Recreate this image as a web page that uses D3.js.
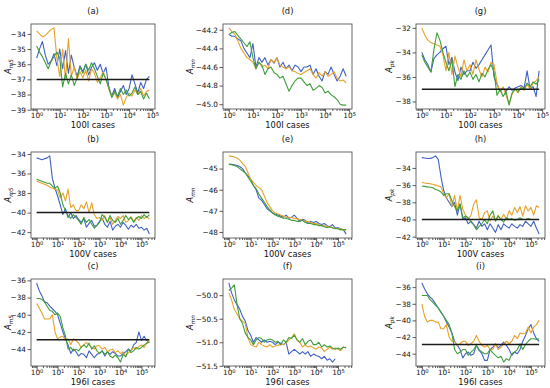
<!DOCTYPE html>
<html>
<head>
<meta charset="utf-8">
<script src="https://cdn.jsdelivr.net/npm/d3@7"></script>
<style>
  body { margin: 0; background: #fff; }
  text { font-family: "DejaVu Sans", sans-serif; }
</style>
</head>
<body>
<svg class="chart"></svg>
<script>
// number of cases (x)
var casesI = [1, 1.33, 1.78, 2.37, 3.16, 4.22, 5.62, 7.5,
  10, 13.3, 17.8, 23.7, 31.6, 42.2, 56.2, 75,
  100, 133, 178, 237, 316, 422, 562, 750,
  1000, 1330, 1780, 2370, 3160, 4220, 5620, 7500,
  10000, 13300, 17800, 23700, 31600, 42200, 56200, 75000];
var casesV = [1, 1.33, 1.78, 2.37, 3.16, 4.22, 5.62, 7.5,
  10, 13.3, 17.8, 23.7, 31.6, 42.2, 56.2, 75,
  100, 133, 178, 237, 316, 422, 562, 750,
  1000, 1330, 1780, 2370, 3160, 4220, 5620, 7500,
  10000, 13300, 17800, 23700, 31600, 42200, 56200, 75000,
  100000, 133000, 178000, 237000];
var cases196I = casesV;

// (a) A_m5, 100I
var a_blue = [-35.6, -35.0, -34.5, -35.4, -36.0, -35.8, -35.3, -36.1,
  -35.0, -36.3, -35.1, -36.6, -35.4, -36.2, -36.8, -36.1,
  -36.5, -36.0, -36.7, -36.2, -35.9, -36.4, -36.0, -36.6,
  -36.2, -37.5, -38.1, -37.6, -38.2, -37.8, -37.4, -38.0,
  -37.6, -36.7, -37.3, -37.9, -37.2, -37.6, -37.0, -36.8];
var a_orange = [-33.8, -34.0, -34.2, -34.1, -33.9, -33.7, -33.6, -35.6,
  -36.8, -35.0, -37.0, -34.3, -36.8, -36.2, -37.0, -36.5,
  -36.9, -36.4, -37.1, -36.3, -36.6, -37.2, -36.9, -36.5,
  -37.0, -37.6, -38.1, -37.9, -38.3, -38.0, -38.7, -38.2,
  -37.9, -38.1, -37.7, -38.0, -37.6, -38.1, -37.8, -37.7];
var a_green = [-34.8, -35.2, -35.5, -35.9, -36.3, -35.8, -35.5, -35.2,
  -35.6, -37.5, -36.6, -37.3, -36.7, -37.4, -36.9, -36.2,
  -36.6, -36.0, -36.4, -35.9, -36.3, -36.8, -37.3, -36.6,
  -37.0, -37.6, -38.2, -37.8, -38.1, -37.6, -38.0, -37.7,
  -38.1, -37.9, -37.5, -38.0, -37.8, -38.3, -37.9, -38.3];

// (d) A_mn, 100I
var d_blue = [-44.25, -44.27, -44.27, -44.3, -44.32, -44.4, -44.45, -44.5,
  -44.35, -44.6, -44.5, -44.55, -44.5, -44.58, -44.52, -44.56,
  -44.5, -44.6, -44.55, -44.62, -44.58, -44.64, -44.58, -44.6,
  -44.65, -44.6, -44.6, -44.58, -44.68, -44.62, -44.7, -44.75,
  -44.65, -44.68, -44.6, -44.68, -44.75, -44.7, -44.62, -44.7];
var d_orange = [-44.18, -44.22, -44.25, -44.32, -44.4, -44.45, -44.5, -44.52,
  -44.55, -44.62, -44.55, -44.6, -44.58, -44.62, -44.52, -44.55,
  -44.5, -44.58, -44.6, -44.62, -44.6, -44.64, -44.65, -44.67,
  -44.68, -44.66, -44.64, -44.62, -44.68, -44.72, -44.66, -44.7,
  -44.65, -44.7, -44.68, -44.65, -44.72, -44.75, -44.74, -44.77];
var d_green = [-44.25, -44.23, -44.22, -44.26, -44.3, -44.34, -44.38, -44.33,
  -44.5, -44.62, -44.55, -44.58, -44.68, -44.62, -44.6, -44.66,
  -44.68, -44.72, -44.7, -44.78, -44.86, -44.8, -44.75, -44.72,
  -44.72, -44.76, -44.8, -44.78, -44.85, -44.83, -44.8, -44.82,
  -44.88, -44.86, -44.9, -44.92, -44.95, -45.0, -45.01, -45.01];

// (g) A_pk, 100I
var g_blue = [-34.0, -34.6, -35.0, -35.6, -34.5, -34.2, -34.0, -33.7,
  -33.5, -35.0, -34.4, -35.6, -36.3, -35.2, -35.8, -35.5,
  -35.5, -34.8, -35.3, -35.0, -34.6, -34.2, -33.8, -33.4,
  -36.0, -36.6, -37.2, -36.9, -37.2, -36.8, -37.1, -36.9,
  -36.8, -36.7, -36.9, -35.5, -37.0, -36.8, -37.6, -35.5];
var g_orange = [-32.0, -32.6, -33.0, -33.2, -33.3, -33.4, -33.5, -34.2,
  -35.5, -34.0, -35.8, -34.3, -35.2, -36.0, -34.6, -35.5,
  -35.0, -35.8, -34.6, -35.4, -36.0, -35.2, -35.6, -34.8,
  -35.0, -36.5, -37.2, -36.8, -37.5, -38.2, -37.4, -37.0,
  -37.3, -36.8, -37.1, -36.6, -37.0, -36.5, -36.3, -36.0];
var g_green = [-34.2, -34.8, -35.2, -35.6, -33.8, -32.4, -33.0, -34.0,
  -34.8, -35.5, -34.6, -36.8, -35.8, -36.2, -35.5, -36.0,
  -35.6, -36.2, -35.8, -36.4, -35.7, -36.0, -35.4, -35.0,
  -35.6, -37.5, -37.0, -37.6, -37.2, -38.3, -37.3, -37.0,
  -37.2, -36.9, -37.0, -36.5, -36.8, -36.4, -36.6, -36.2];

// (b) A_m5, 100V
var b_blue = [-34.4, -34.5, -34.6, -34.5, -34.4, -34.2, -36.5, -37.5,
  -38.3, -39.2, -40.2, -39.6, -40.5, -40.0, -40.6, -40.3,
  -40.7, -41.0, -40.6, -41.5, -41.1, -40.8, -41.4, -41.3,
  -40.9, -40.6, -41.2, -41.5, -40.9, -41.8, -41.4, -41.2,
  -41.5, -41.0, -41.3, -41.7, -41.3, -41.5, -41.2, -41.6,
  -41.5, -41.8, -41.6, -42.2];
var b_orange = [-36.8, -36.9, -37.0, -37.1, -37.2, -37.4, -37.5, -37.6,
  -37.7, -38.5, -38.0, -38.8, -37.6, -39.5, -39.2, -39.8,
  -39.8, -39.2, -39.6, -38.9, -40.0, -39.0, -40.2, -40.6,
  -40.5, -40.8, -40.3, -41.0, -40.5, -41.2, -40.8, -40.4,
  -40.6, -40.3, -41.0, -40.8, -40.4, -40.9, -40.5, -40.8,
  -40.3, -40.6, -40.4, -40.7];
var b_green = [-36.6, -36.7, -36.8, -36.9, -37.0, -37.0, -37.3, -37.5,
  -37.3, -38.0, -39.2, -39.8, -40.3, -40.6, -40.2, -40.5,
  -40.8, -41.2, -40.5, -41.0, -40.7, -41.2, -41.6, -41.3,
  -41.0, -40.2, -40.5, -41.0, -40.3, -40.8, -41.0, -40.6,
  -41.2, -40.8, -40.3, -40.7, -40.5, -41.0, -40.6, -40.4,
  -40.6, -40.2, -40.5, -40.2];

// (e) A_mn, 100V
var e_blue = [-44.8, -44.8, -44.82, -44.85, -44.9, -45.0, -45.2, -45.35,
  -45.5, -45.8, -46.0, -46.4, -46.5, -46.7, -46.9, -47.0,
  -47.1, -47.15, -47.2, -47.25, -47.3, -47.2, -47.35, -47.3,
  -47.2, -47.35, -47.5, -47.4, -47.45, -47.6, -47.5, -47.55,
  -47.5, -47.6, -47.65, -47.6, -47.7, -47.75, -47.65, -47.8,
  -47.8, -47.85, -47.9, -48.1];
var e_orange = [-44.4, -44.42, -44.45, -44.5, -44.6, -44.75, -44.9, -45.2,
  -45.5, -45.65, -45.8, -45.9, -46.0, -46.3, -46.6, -46.8,
  -47.0, -47.1, -47.15, -47.2, -47.25, -47.3, -47.3, -47.32,
  -47.35, -47.38, -47.4, -47.45, -47.5, -47.5, -47.55, -47.6,
  -47.6, -47.65, -47.7, -47.7, -47.75, -47.75, -47.8, -47.82,
  -47.85, -47.85, -47.9, -47.9];
var e_green = [-44.8, -44.82, -44.85, -44.9, -45.0, -45.1, -45.2, -45.4,
  -45.6, -45.8, -45.95, -46.2, -46.4, -46.6, -46.8, -46.95,
  -47.1, -47.2, -47.25, -47.3, -47.35, -47.35, -47.4, -47.45,
  -47.45, -47.5, -47.5, -47.45, -47.55, -47.6, -47.6, -47.65,
  -47.65, -47.7, -47.7, -47.75, -47.8, -47.75, -47.8, -47.85,
  -47.85, -47.9, -47.88, -47.9];

// (h) A_pk, 100V
var h_blue = [-32.8, -32.85, -32.9, -32.9, -32.8, -32.6, -33.0, -35.0,
  -36.6, -37.5, -38.0, -38.5, -38.0, -39.5, -38.2, -40.0,
  -39.8, -40.5, -40.2, -40.6, -41.0, -40.2, -40.8, -40.5,
  -41.2, -40.5, -41.0, -41.5, -40.6, -41.2, -40.5, -40.8,
  -41.0, -40.5, -40.8, -41.0, -40.6, -40.8, -40.2, -40.5,
  -40.8, -40.2, -41.0, -41.7];
var h_orange = [-35.7, -35.75, -35.8, -35.85, -35.9, -36.0, -36.1, -36.2,
  -37.0, -37.5, -37.0, -38.5, -37.2, -39.0, -37.2, -38.8,
  -39.5, -40.0, -39.5, -38.2, -37.7, -39.8, -40.0, -39.2,
  -39.0, -40.2, -39.6, -40.1, -39.5, -40.0, -39.4, -40.0,
  -39.0, -39.5, -38.6, -39.2, -38.5, -39.6, -38.4, -39.0,
  -38.6, -39.5, -38.4, -38.6];
var h_green = [-36.1, -36.15, -36.2, -36.25, -36.3, -36.5, -36.6, -36.8,
  -37.2, -37.0, -37.0, -37.8, -38.5, -39.0, -38.2, -39.8,
  -39.6, -39.8, -40.3, -40.6, -41.2, -40.8, -40.5, -40.0,
  -40.5, -39.5, -39.0, -40.2, -39.6, -40.0, -40.3, -39.8,
  -40.0, -39.9, -40.1, -40.0, -39.8, -40.0, -40.0, -39.9,
  -40.0, -40.0, -40.0, -40.0];

// (c) A_m5, 196I
var c_blue = [-36.3, -37.2, -37.8, -38.5, -38.6, -39.0, -39.3, -39.6,
  -40.0, -41.0, -42.0, -42.8, -43.5, -44.5, -44.0, -44.3,
  -44.8, -44.5, -44.6, -45.0, -44.2, -44.6, -45.0, -44.6,
  -44.5, -44.2, -44.8, -44.3, -44.6, -44.3, -44.5, -44.8,
  -44.8, -44.5, -44.3, -44.0, -44.2, -43.5, -43.2, -42.0,
  -43.0, -42.5, -43.0, -43.2];
var c_orange = [-38.7, -39.2, -39.8, -40.5, -40.5, -40.5, -40.0, -42.0,
  -42.8, -42.6, -42.5, -43.0, -42.8, -43.5, -42.8, -43.0,
  -43.3, -43.8, -43.5, -43.2, -43.5, -43.8, -44.0, -43.6,
  -43.6, -44.0, -43.8, -44.3, -44.1, -44.0, -44.4, -44.2,
  -44.5, -44.3, -44.8, -44.4, -44.2, -43.8, -44.0, -43.7,
  -43.5, -43.8, -43.3, -43.0];
var c_green = [-38.1, -38.1, -38.2, -38.5, -39.0, -39.5, -39.6, -40.0,
  -39.8, -40.2, -41.5, -42.5, -44.0, -43.8, -44.2, -44.0,
  -44.2, -43.8, -43.5, -43.8, -43.3, -44.0, -43.6, -44.2,
  -44.5, -44.2, -44.6, -44.3, -44.8, -45.0, -44.7, -45.0,
  -45.5, -44.6, -44.9, -44.0, -44.4, -44.2, -43.8, -44.0,
  -43.8, -43.5, -43.3, -43.2];

// (f) A_mn, 196I
var f_blue = [-49.74, -49.95, -50.1, -50.2, -50.3, -50.45, -50.55, -50.75,
  -50.85, -51.0, -50.9, -50.95, -51.0, -50.95, -51.0, -50.98,
  -51.0, -51.05, -51.0, -51.02, -51.05, -51.0, -51.25, -51.2,
  -51.15, -51.2, -51.25, -51.2, -51.25, -51.2, -51.3, -51.25,
  -51.28, -51.3, -51.35, -51.3, -51.38, -51.35, -51.42, -51.35];
var f_orange = [-49.95, -50.1, -50.3, -50.4, -50.5, -50.55, -50.6, -50.9,
  -51.05, -51.08, -51.1, -51.0, -51.05, -51.08, -51.1, -51.05,
  -51.1, -51.08, -51.06, -51.05, -51.05, -51.02, -50.95, -50.9,
  -50.82, -50.95, -51.0, -51.1, -51.05, -51.1, -51.08, -51.12,
  -51.15, -51.1, -51.12, -51.2, -51.15, -51.1, -51.15, -51.12,
  -51.15, -51.18, -51.1, -51.12];
var f_green = [-49.9, -49.85, -49.78, -50.2, -50.5, -50.6, -50.8, -50.9,
  -50.95, -51.05, -50.95, -50.9, -50.92, -51.0, -50.95, -50.93,
  -50.95, -51.0, -50.98, -51.05, -50.95, -51.0, -50.9, -50.92,
  -50.85, -50.95, -51.0, -50.92, -51.05, -50.98, -50.95, -51.05,
  -51.05, -51.0, -51.1, -51.05, -51.1, -51.08, -51.12, -51.15,
  -51.12, -51.15, -51.1, -51.12];

// (i) A_pk, 196I
var i_blue = [-35.5, -36.2, -36.8, -37.2, -37.5, -38.0, -38.5, -39.0,
  -39.5, -40.2, -40.8, -41.5, -42.5, -43.0, -43.5, -44.5,
  -44.0, -43.8, -44.2, -44.0, -43.0, -43.6, -44.0, -44.8,
  -44.8, -43.5, -43.2, -42.8, -43.3, -43.0, -42.6, -43.0,
  -43.5, -44.2, -43.8, -44.0, -43.5, -42.5, -41.8, -41.0,
  -40.5, -41.5, -42.2, -42.5];
var i_orange = [-38.0, -39.5, -40.2, -40.0, -40.0, -40.2, -40.2, -41.0,
  -41.0, -40.5, -42.0, -42.5, -42.5, -43.0, -42.8, -42.5,
  -42.5, -43.0, -42.8, -42.5, -41.8, -42.5, -43.0, -43.2,
  -43.0, -43.5, -43.5, -42.8, -43.5, -43.2, -42.8, -42.5,
  -42.8, -42.5, -41.8, -42.2, -41.5, -41.6, -41.5, -40.8,
  -41.5, -40.8, -40.5, -40.0];
var i_green = [-37.0, -37.0, -37.0, -37.5, -37.8, -38.2, -38.5, -39.0,
  -39.5, -40.0, -40.5, -41.5, -43.5, -44.0, -43.8, -43.5,
  -43.5, -44.2, -43.8, -43.5, -43.0, -43.5, -43.8, -44.0,
  -44.0, -43.5, -43.9, -44.2, -44.5, -44.3, -45.0, -44.6,
  -44.8, -44.0, -43.8, -43.5, -42.8, -43.5, -42.9, -42.5,
  -42.2, -42.2, -42.3, -42.2];

// reference (black) levels, panel titles, labels and ticks
var refLevels = [-37, null, -37, -40, null, -40, -42.9, null, -42.9];
var panelTitles = ["(a)", "(d)", "(g)", "(b)", "(e)", "(h)", "(c)", "(f)", "(i)"];
var xLabels = ["100I cases", "100V cases", "196I cases"];
var ySubs = ["m5", "mn", "pk"];
var xTicks = [1, 10, 100, 1000, 10000, 100000];
var yTicks = [
  [-34, -35, -36, -37, -38, -39], [-44.2, -44.4, -44.6, -44.8, -45.0], [-32, -34, -36, -38],
  [-34, -36, -38, -40, -42], [-45, -46, -47, -48], [-34, -36, -38, -40, -42],
  [-36, -38, -40, -42, -44], [-50.0, -50.5, -51.0, -51.5], [-36, -38, -40, -42, -44]
];
var yFormats = [".0f", ".1f", ".0f", ".0f", ".0f", ".0f", ".0f", ".1f", ".0f"];

var panels = [
  {x: casesI, runs: [a_blue, a_orange, a_green]},
  {x: casesI, runs: [d_blue, d_orange, d_green]},
  {x: casesI, runs: [g_blue, g_orange, g_green]},
  {x: casesV, runs: [b_blue, b_orange, b_green]},
  {x: casesV, runs: [e_blue, e_orange, e_green]},
  {x: casesV, runs: [h_blue, h_orange, h_green]},
  {x: cases196I, runs: [c_blue, c_orange, c_green]},
  {x: cases196I, runs: [f_blue, f_orange, f_green]},
  {x: cases196I, runs: [i_blue, i_orange, i_green]}
];

var width = 550, height = 388;
var colX = [[31, 155], [223, 352], [416, 545]];
var rowY = [[24, 109], [152, 238], [279, 366]];
var yLabelX = [8, 190, 389];
var colors = ["#3f61c4", "#e8a22a", "#3f9e3a"];

var svg = d3.select(".chart").attr("width", width).attr("height", height);

panels.forEach(function(p, n) {
  var col = n % 3, row = Math.floor(n / 3);
  var left = colX[col][0], right = colX[col][1];
  var top = rowY[row][0], bottom = rowY[row][1];

  // matplotlib-like autoscale: 5% margin
  var lx = d3.extent(p.x).map(Math.log10);
  var padX = (lx[1] - lx[0]) * 0.05;
  var x = d3.scaleLog()
    .domain([Math.pow(10, lx[0] - padX), Math.pow(10, lx[1] + padX)])
    .range([left, right]);
  var vals = d3.merge(p.runs);
  if (refLevels[n] !== null) vals.push(refLevels[n]);
  var ye = d3.extent(vals);
  var padY = (ye[1] - ye[0]) * 0.05;
  var y = d3.scaleLinear().domain([ye[0] - padY, ye[1] + padY]).range([bottom, top]);

  var g = svg.append("g");

  var line = d3.line()
    .x(function(d) { return x(d[0]); })
    .y(function(d) { return y(d[1]); });

  p.runs.forEach(function(run, k) {
    var pts = run.map(function(v, i) { return [p.x[i], v]; });
    g.append("path")
      .datum(pts)
      .attr("d", line)
      .attr("fill", "none")
      .attr("stroke", colors[k])
      .attr("stroke-width", 1.1)
      .attr("stroke-linejoin", "round");
  });

  if (refLevels[n] !== null) {
    g.append("line")
      .attr("x1", x(p.x[0])).attr("x2", x(p.x[p.x.length - 1]))
      .attr("y1", y(refLevels[n])).attr("y2", y(refLevels[n]))
      .attr("stroke", "#1a1a1a").attr("stroke-width", 1.5);
  }

  // x axis with superscript labels
  var xa = g.append("g").attr("transform", "translate(0," + bottom + ")")
    .call(d3.axisBottom(x).tickValues(xTicks).tickSize(3.5).tickPadding(0.5).tickFormat(function() { return "10"; }));
  xa.selectAll(".tick text").each(function(d) {
    d3.select(this).append("tspan")
      .attr("dy", "-0.4em").attr("font-size", "5.2px")
      .text(Math.round(Math.log10(d)));
  });
  var minor = [];
  xTicks.concat([1e6]).forEach(function(t) {
    for (var m = 2; m < 10; m++) {
      var v = t / 10 * m;
      if (v > x.domain()[0] && v < x.domain()[1]) minor.push(v);
    }
  });
  g.append("g").attr("transform", "translate(0," + bottom + ")")
    .call(d3.axisBottom(x).tickValues(minor).tickSize(2).tickFormat(""))
    .select(".domain").remove();

  g.append("g").attr("transform", "translate(" + left + ",0)")
    .call(d3.axisLeft(y).tickValues(yTicks[n]).tickSize(3.5).tickPadding(1.5).tickFormat(d3.format(yFormats[n])));

  g.selectAll(".domain").remove();
  g.selectAll(".tick line").attr("stroke", "#333").attr("stroke-width", 0.8);
  g.selectAll(".tick text").attr("font-size", "7.3px").attr("fill", "#111")
    .attr("font-family", "DejaVu Sans, sans-serif");

  g.append("rect")
    .attr("x", left).attr("y", top)
    .attr("width", right - left).attr("height", bottom - top)
    .attr("fill", "none").attr("stroke", "#444").attr("stroke-width", 0.8);

  g.append("text")
    .attr("x", (left + right) / 2).attr("y", top - 10)
    .attr("text-anchor", "middle").attr("font-size", "8.3px").attr("fill", "#111")
    .text(panelTitles[n]);

  g.append("text")
    .attr("x", (left + right) / 2).attr("y", bottom + 18.5)
    .attr("text-anchor", "middle").attr("font-size", "8.3px").attr("fill", "#111")
    .text(xLabels[row]);

  var yl = g.append("text")
    .attr("transform", "translate(" + yLabelX[col] + "," + (top + bottom) / 2 + ") rotate(-90)")
    .attr("text-anchor", "middle").attr("dy", "0.35em")
    .attr("font-size", "8.3px").attr("fill", "#111");
  yl.append("tspan").attr("font-style", "italic").text("A");
  yl.append("tspan").attr("font-size", "5.8px").attr("dy", "0.3em").attr("font-style", "italic").text(ySubs[col]);
});
</script>
</body>
</html>
